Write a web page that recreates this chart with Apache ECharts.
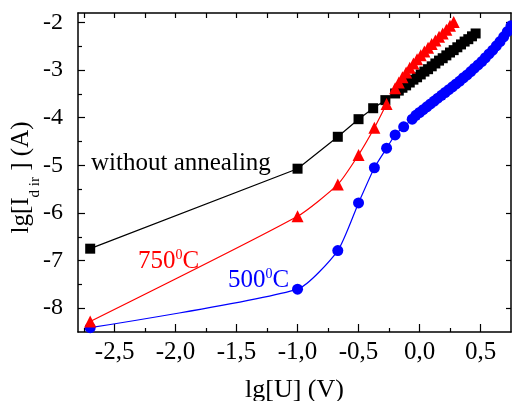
<!DOCTYPE html>
<html>
<head>
<meta charset="utf-8">
<script src="https://cdn.jsdelivr.net/npm/echarts@6/dist/echarts.min.js"></script>
<style>
html,body{margin:0;padding:0;background:#fff;}
#c{width:512px;height:401px;}
</style>
</head>
<body>
<div id="c"></div>
<script>
// ---- data ----
var blackX = [-2.70, -1.00, -0.67, -0.50, -0.38, -0.28, -0.20,
  -0.17, -0.14, -0.11, -0.08, -0.05, -0.02, 0.01, 0.04, 0.07, 0.10, 0.13, 0.16, 0.19,
  0.22, 0.25, 0.28, 0.31, 0.34, 0.37, 0.40, 0.43, 0.46];
var blackY = [-6.75, -5.07, -4.40, -4.03, -3.80, -3.63, -3.49,
  -3.43, -3.37, -3.32, -3.26, -3.20, -3.15, -3.09, -3.03, -2.98, -2.92, -2.86, -2.80, -2.75,
  -2.69, -2.63, -2.58, -2.52, -2.46, -2.40, -2.35, -2.29, -2.23];

var redX = [-2.70, -1.00, -0.67, -0.50, -0.37, -0.27, -0.20,
  -0.17, -0.14, -0.11, -0.08, -0.05, -0.02, 0.01, 0.04, 0.07, 0.10, 0.13, 0.16, 0.19,
  0.22, 0.25, 0.28];
var redY = [-8.28, -6.07, -5.40, -4.78, -4.21, -3.71, -3.38,
  -3.26, -3.15, -3.05, -2.95, -2.86, -2.77, -2.69, -2.61, -2.53, -2.45, -2.38, -2.30, -2.23,
  -2.15, -2.07, -1.99];

var blueX = [-2.70, -1.00, -0.67, -0.50, -0.37, -0.27, -0.20, -0.13, -0.06,
  -0.03, 0.00, 0.03, 0.06, 0.09, 0.12, 0.15, 0.18, 0.21, 0.24, 0.27, 0.30, 0.33, 0.36,
  0.39, 0.42, 0.45, 0.48, 0.51, 0.54, 0.57, 0.60, 0.63, 0.66, 0.69, 0.72, 0.75];
var blueY = [-8.41, -7.60, -6.79, -5.79, -5.05, -4.64, -4.36, -4.19, -4.03,
  -3.95, -3.89, -3.83, -3.77, -3.71, -3.65, -3.59, -3.53, -3.47, -3.41, -3.35, -3.29, -3.23, -3.16,
  -3.10, -3.03, -2.96, -2.89, -2.82, -2.74, -2.66, -2.58, -2.49, -2.40, -2.30, -2.19, -2.07];

var xMajorTicks = [-2.5, -2.0, -1.5, -1.0, -0.5, 0.0, 0.5];
var xMinorTicks = [-2.75, -2.25, -1.75, -1.25, -0.75, -0.25, 0.25];
var yMajorTicks = [-8, -7, -6, -5, -4, -3, -2];
var yMinorTicks = [-7.5, -6.5, -5.5, -4.5, -3.5, -2.5];

var seriesNames = ['without annealing', '750\u2070C', '500\u2070C'];

function zip(xs, ys) { return xs.map(function (x, i) { return [x, ys[i]]; }); }

var FONT = 'Liberation Serif';
var X_MIN = -2.8, X_MAX = 0.75, Y_MIN = -8.5, Y_MAX = -1.8;

var chart = echarts.init(document.getElementById('c'), null, {renderer: 'canvas'});

function xAxisBase(pos) {
  return {
    type: 'value', position: pos, min: X_MIN, max: X_MAX,
    splitLine: {show: false},
    axisLine: {show: true, onZero: false, lineStyle: {color: '#000', width: 1.5}},
    axisLabel: {show: false},
    axisTick: {show: true, inside: true, length: 4, lineStyle: {color: '#000', width: 1.2}}
  };
}
function yAxisBase(pos) {
  return {
    type: 'value', position: pos, min: Y_MIN, max: Y_MAX,
    splitLine: {show: false},
    axisLine: {show: true, onZero: false, lineStyle: {color: '#000', width: 1.5}},
    axisLabel: {show: false},
    axisTick: {show: true, inside: true, length: 4, lineStyle: {color: '#000', width: 1.2}}
  };
}

var xa0 = xAxisBase('bottom');
xa0.axisTick.length = 8;
xa0.axisTick.customValues = xMajorTicks;
xa0.axisLabel = {
  show: true, customValues: xMajorTicks, margin: 8,
  fontFamily: FONT, fontSize: 25, color: '#000',
  formatter: function (v) { return v.toFixed(1).replace('.', ','); }
};
xa0.name = 'lg[U] (V)';
xa0.nameLocation = 'middle';
xa0.nameGap = 45;
xa0.nameMoveOverlap = false;
xa0.nameTextStyle = {fontFamily: FONT, fontSize: 26, color: '#000'};

var xa1 = xAxisBase('bottom');
xa1.axisLine = {show: false, onZero: false};
xa1.axisTick.customValues = xMinorTicks;

var xa2 = xAxisBase('top');
xa2.axisTick.length = 5;
xa2.axisTick.customValues = xMajorTicks.concat(xMinorTicks);

var ya0 = yAxisBase('left');
ya0.axisTick.length = 7;
ya0.axisTick.customValues = yMajorTicks;
ya0.axisLabel = {
  show: true, customValues: yMajorTicks, margin: 15,
  fontFamily: FONT, fontSize: 24, color: '#000',
  formatter: function (v) { return String(Math.round(v)); }
};
ya0.name = '{a|lg[I}{s|d ir}{a| ] (A)}';
ya0.nameLocation = 'middle';
ya0.nameRotate = 90;
ya0.nameGap = 35;
ya0.nameMoveOverlap = false;
ya0.nameTextStyle = {
  fontFamily: FONT, color: '#000', padding: [0, 10, 0, 0],
  rich: {
    a: {fontFamily: FONT, fontSize: 25, color: '#000', lineHeight: 34, verticalAlign: 'top'},
    s: {fontFamily: FONT, fontSize: 15, color: '#000', lineHeight: 16, verticalAlign: 'bottom'}
  }
};

var ya1 = yAxisBase('left');
ya1.axisLine = {show: false, onZero: false};
ya1.axisTick.customValues = yMinorTicks;

var ya2 = yAxisBase('right');
ya2.axisTick.length = 5;
ya2.axisTick.customValues = yMajorTicks;

function lineSeries(name, xs, ys, color, symbol, size, smooth) {
  return {
    name: name, type: 'line', xAxisIndex: 0, yAxisIndex: 0,
    data: zip(xs, ys),
    symbol: symbol, symbolSize: size, showSymbol: true, showAllSymbol: true,
    smooth: smooth,
    itemStyle: {color: color},
    lineStyle: {color: color, width: 1.2},
    clip: true, animation: false
  };
}

var option = {
  backgroundColor: '#fff',
  animation: false,
  grid: {left: 78, right: 1, top: 13, bottom: 69, containLabel: false, outerBoundsMode: 'none'},
  xAxis: [xa0, xa1, xa2],
  yAxis: [ya0, ya1, ya2],
  series: [
    lineSeries(seriesNames[0], blackX, blackY, '#000000', 'rect', 10, false),
    lineSeries(seriesNames[2], blueX, blueY, '#0000ff', 'circle', 11, 0.2),
    lineSeries(seriesNames[1], redX, redY, '#ff0000', 'triangle', 12, 0.2)
  ],
  graphic: [
    {type: 'text', x: 91, y: 163, z: 100,
      style: {text: 'without annealing', fill: '#000', font: '25px "Liberation Serif"',
        align: 'left', verticalAlign: 'middle'}},
    {type: 'text', x: 138, y: 261, z: 100,
      style: {text: '{a|750}{b|0}{a|C}', fill: '#ff0000', align: 'left', verticalAlign: 'middle',
        rich: {
          a: {fontFamily: FONT, fontSize: 25, fill: '#ff0000', lineHeight: 26, verticalAlign: 'bottom'},
          b: {fontFamily: FONT, fontSize: 14, fill: '#ff0000', lineHeight: 12, verticalAlign: 'top'}
        }}},
    {type: 'text', x: 228, y: 280, z: 100,
      style: {text: '{a|500}{b|0}{a|C}', fill: '#0000ff', align: 'left', verticalAlign: 'middle',
        rich: {
          a: {fontFamily: FONT, fontSize: 25, fill: '#0000ff', lineHeight: 26, verticalAlign: 'bottom'},
          b: {fontFamily: FONT, fontSize: 14, fill: '#0000ff', lineHeight: 12, verticalAlign: 'top'}
        }}}
  ]
};
chart.setOption(option);
</script>
</body>
</html>
